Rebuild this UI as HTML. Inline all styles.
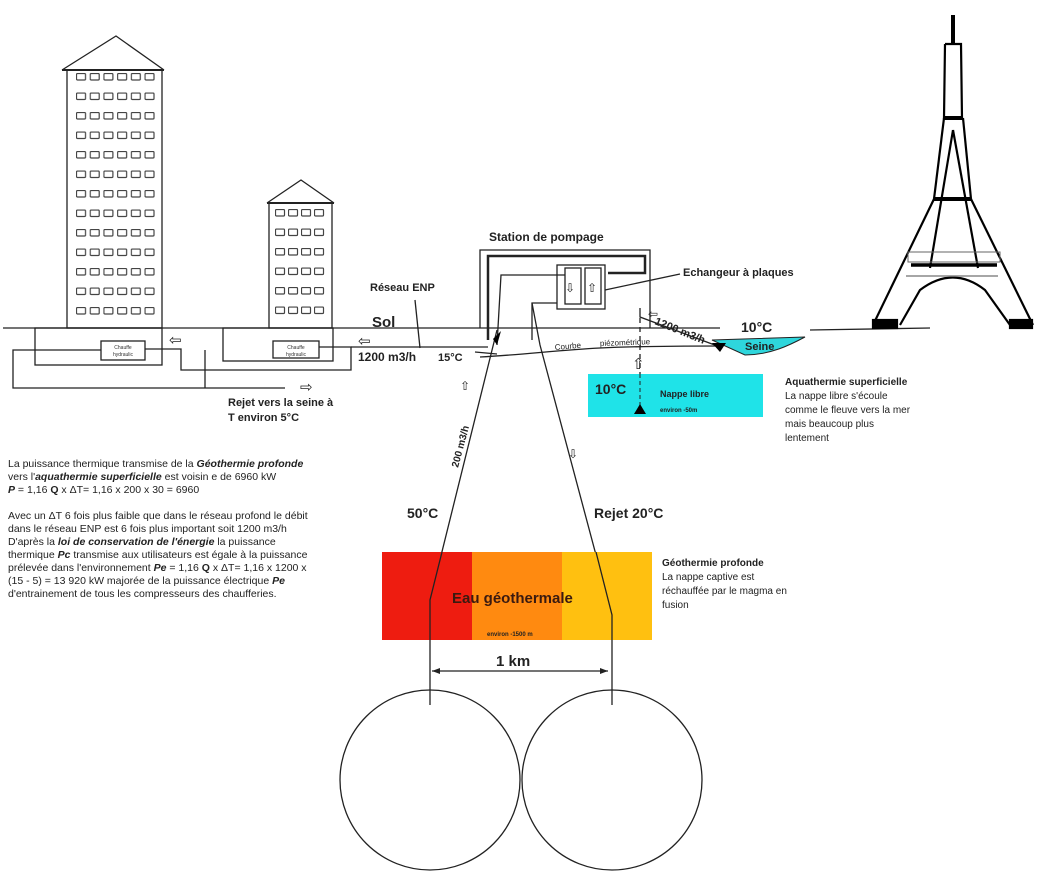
<!DOCTYPE html>
<html><head><meta charset="utf-8"><style>
body{margin:0;background:#fff;}
svg{display:block;font-family:"Liberation Sans",sans-serif;}
</style></head><body>
<svg width="1050" height="893" viewBox="0 0 1050 893" xmlns="http://www.w3.org/2000/svg">
<defs>
<pattern id="w1" x="76" y="73" width="13.7" height="19.5" patternUnits="userSpaceOnUse"><rect x="0.5" y="0.5" width="9" height="6.5" rx="1" fill="none" stroke="#444" stroke-width="1.2"/></pattern>
<pattern id="w2" x="275" y="209" width="13" height="19.5" patternUnits="userSpaceOnUse"><rect x="0.5" y="0.5" width="9" height="6.5" rx="1" fill="none" stroke="#444" stroke-width="1.2"/></pattern>
</defs>
<g stroke="#222" fill="none" stroke-width="1.3">
<polyline points="62,70 116,36 164,70"/>
<line x1="62" y1="70" x2="164" y2="70" stroke-width="2"/>
<rect x="67" y="70" width="95" height="258"/>
<rect x="75" y="72" width="82" height="254" fill="url(#w1)" stroke="none"/>
<polyline points="267,203 301,180 334,203"/>
<line x1="267" y1="203" x2="334" y2="203" stroke-width="2"/>
<rect x="269" y="203" width="63" height="125"/>
<rect x="274" y="208" width="52" height="117" fill="url(#w2)" stroke="none"/>
<line x1="3" y1="328" x2="720" y2="328"/>
<line x1="810" y1="330" x2="930" y2="328"/>
<rect x="35" y="328" width="127" height="37"/>
<rect x="101" y="341" width="44" height="19"/>
<rect x="223" y="328" width="110" height="33"/>
<rect x="273" y="341" width="46" height="17"/>
<polyline points="101,350 13,350 13,388 285,388"/>
<polyline points="145,349 181,349 181,370 351,370 351,347 319,347"/>
<line x1="205" y1="350" x2="205" y2="388"/>
<polyline points="351,347 488,347"/>
<line x1="475" y1="352" x2="497" y2="354"/>
<line x1="415" y1="300" x2="420" y2="348"/>
<polyline points="480,328 480,250 650,250 650,328"/>
<polyline points="488,340 488,256 645,256 645,273 608,273" stroke-width="2.5"/>
<polyline points="497,345 501,275 565,275" />
<polyline points="532,340 532,303 557,303"/>
<rect x="557" y="265" width="48" height="44"/>
<rect x="565" y="268" width="16" height="36"/>
<rect x="585" y="268" width="16" height="36"/>
<line x1="605" y1="290" x2="680" y2="274"/>
<polyline points="640,308 640,317 720,347"/>
<line x1="640" y1="318" x2="640" y2="413" stroke-dasharray="5,4"/>
<path d="M480,357 C520,355 560,350 600,348 C640,346 680,346 720,346"/>
<polyline points="430,705 430,600 497,330"/>
<polyline points="612,705 612,615 540,345 532,303"/>
<circle cx="430" cy="780" r="90"/>
<circle cx="612" cy="780" r="90"/>
<g stroke="#000" stroke-width="2.2">
<line x1="953" y1="15" x2="953" y2="44" stroke-width="4"/>
<polyline points="945,44 961,44 962,118 944,118 945,44"/>
<line x1="944" y1="118" x2="963" y2="118" stroke-width="4"/>
<line x1="944" y1="118" x2="934" y2="199"/>
<line x1="963" y1="118" x2="971" y2="199"/>
<line x1="953" y1="130" x2="930" y2="268"/>
<line x1="953" y1="130" x2="978" y2="268"/>
<line x1="934" y1="199" x2="971" y2="199" stroke-width="4"/>
<line x1="934" y1="199" x2="873" y2="325"/>
<line x1="971" y1="199" x2="1033" y2="325"/>
<line x1="911" y1="265" x2="997" y2="265" stroke-width="3.5"/>
<path d="M900,325 L920,290 Q953,265 985,290 L1010,325"/>
<rect x="873" y="320" width="24" height="8" fill="#000"/>
<rect x="1010" y="320" width="22" height="8" fill="#000"/>
</g>
<rect x="908" y="252" width="92" height="10" stroke="#666" stroke-width="1"/>
<line x1="906" y1="276" x2="998" y2="276" stroke="#888" stroke-width="1.5"/>
<line x1="432" y1="671" x2="608" y2="671"/>
</g>
<polygon points="432,671 440,668 440,674" fill="#222"/>
<polygon points="608,671 600,668 600,674" fill="#222"/>
<path d="M712,340 L805,337 C790,345 770,355 745,355 Z" fill="#2ed6dc" stroke="#222" stroke-width="1"/>
<polygon points="712,343 726,343 720,352" fill="#000"/>
<rect x="588" y="374" width="175" height="43" fill="#1fe3e8"/>
<line x1="640" y1="374" x2="640" y2="405" stroke="#222" stroke-dasharray="4,3"/>
<polygon points="634,414 640,404 646,414" fill="#000"/>
<polygon points="493,339 501,331 497,345" fill="#000"/>
<rect x="382" y="552" width="90" height="88" fill="#ee1c10"/>
<rect x="472" y="552" width="90" height="88" fill="#ff8a10"/>
<rect x="562" y="552" width="90" height="88" fill="#ffc010"/>
<polyline points="430,640 430,600 442,552" fill="none" stroke="#222" stroke-width="1.3"/>
<polyline points="612,640 612,615 596,552" fill="none" stroke="#222" stroke-width="1.3"/>
<g font-size="5" fill="#333" text-anchor="middle"><text x="123" y="349">Chauffe</text><text x="123" y="356">hydraulic</text><text x="296" y="349">Chauffe</text><text x="296" y="356">hydraulic</text></g>
<g font-size="15" fill="#222">
<text x="169" y="345">⇦</text><text x="358" y="346">⇦</text><text x="300" y="392">⇨</text>
<text x="565" y="292" font-size="12">⇩</text><text x="587" y="292" font-size="12">⇧</text>
<text x="632" y="369">⇧</text><text x="648" y="318" font-size="12">⇦</text>
<text x="460" y="390" font-size="12">⇧</text><text x="568" y="458" font-size="12">⇩</text>
</g>
<g fill="#222" font-weight="bold">
<text x="489" y="241" font-size="12">Station de pompage</text>
<text x="683" y="276" font-size="11">Echangeur à plaques</text>
<text x="370" y="291" font-size="11">Réseau ENP</text>
<text x="372" y="327" font-size="15">Sol</text>
<text x="358" y="361" font-size="12">1200 m3/h</text>
<text x="438" y="361" font-size="11">15°C</text>
<text x="228" y="406" font-size="11">Rejet vers la seine à</text>
<text x="228" y="421" font-size="11">T environ 5°C</text>
<text x="741" y="332" font-size="14">10°C</text>
<text x="745" y="350" font-size="11">Seine</text>
<text x="595" y="394" font-size="14">10°C</text>
<text x="660" y="397" font-size="9">Nappe libre</text>
<text x="660" y="412" font-size="6">environ -50m</text>
<text x="407" y="518" font-size="14">50°C</text>
<text x="594" y="518" font-size="14">Rejet 20°C</text>
<text x="452" y="603" font-size="15" fill="#3a1a10">Eau géothermale</text>
<text x="487" y="636" font-size="6">environ -1500 m</text>
<text x="496" y="666" font-size="15">1 km</text>
</g>
<text x="654" y="324" font-size="11" fill="#222" font-weight="bold" transform="rotate(22 654 324)">1200 m3/h</text>
<text x="458" y="468" font-size="10" fill="#222" font-weight="bold" transform="rotate(-75 458 468)">200 m3/h</text>
<text x="555" y="350" font-size="8" fill="#222" transform="rotate(-5 555 350)">Courbe</text>
<text x="600" y="346" font-size="8" fill="#222" transform="rotate(-2 600 346)">piézométrique</text>
<g font-size="10" fill="#222">
<text x="785" y="385" font-weight="bold">Aquathermie superficielle</text>
<text x="785" y="399">La nappe libre s'écoule</text>
<text x="785" y="413">comme le fleuve vers la mer</text>
<text x="785" y="427">mais beaucoup plus</text>
<text x="785" y="441">lentement</text>
<text x="662" y="566" font-weight="bold">Géothermie profonde</text>
<text x="662" y="580">La nappe captive est</text>
<text x="662" y="594">réchauffée par le magma en</text>
<text x="662" y="608">fusion</text>
</g>
<g font-size="10.5" fill="#222">
<text x="8" y="467">La puissance thermique transmise de la   <tspan font-weight="bold" font-style="italic">Géothermie profonde</tspan></text>
<text x="8" y="480">vers l'<tspan font-weight="bold" font-style="italic">aquathermie superficielle</tspan>  est voisin e de 6960 kW</text>
<text x="8" y="493"><tspan font-weight="bold" font-style="italic">P</tspan> = 1,16 <tspan font-weight="bold">Q</tspan> x ΔT= 1,16 x 200 x 30 = 6960</text>
<text x="8" y="519">Avec un ΔT 6 fois plus faible que dans le réseau profond le débit</text>
<text x="8" y="532">dans le réseau ENP est 6 fois plus important soit 1200 m3/h</text>
<text x="8" y="545">D'après la <tspan font-weight="bold" font-style="italic">loi de conservation de l'énergie</tspan>   la puissance</text>
<text x="8" y="558">thermique <tspan font-weight="bold" font-style="italic">Pc</tspan> transmise aux utilisateurs est égale à la puissance</text>
<text x="8" y="571">prélevée dans l'environnement   <tspan font-weight="bold" font-style="italic">Pe</tspan> = 1,16 <tspan font-weight="bold">Q</tspan> x ΔT= 1,16 x 1200 x</text>
<text x="8" y="584">(15 - 5) = 13 920 kW   majorée de la puissance électrique   <tspan font-weight="bold" font-style="italic">Pe</tspan></text>
<text x="8" y="597">d'entrainement de tous les compresseurs des chaufferies.</text>
</g>
</svg>
</body></html>
